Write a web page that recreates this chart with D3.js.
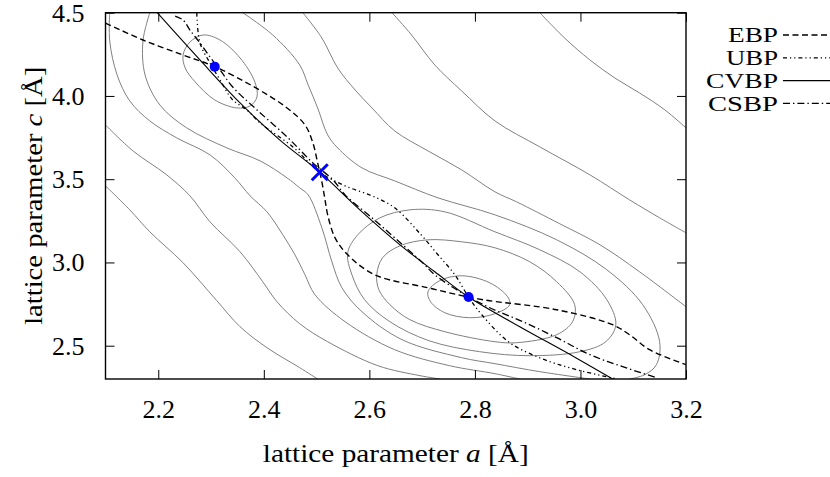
<!DOCTYPE html>
<html>
<head>
<meta charset="utf-8">
<script src="https://cdn.jsdelivr.net/npm/d3@7"></script>
<style>
  html, body { margin: 0; padding: 0; background: #fff; }
  svg { display: block; }
  text { font-family: "Liberation Serif", "Times New Roman", serif; fill: #000; }
</style>
</head>
<body>
<svg id="chart" width="830" height="477"></svg>
<script>
// ---- tick values ----
const xTicks = [2.2, 2.4, 2.6, 2.8, 3.0, 3.2];
const yTicks = [2.5, 3.0, 3.5, 4.0, 4.5];

// ---- stationary points (a, c) in Å ----
const minima = [[2.307, 4.176], [2.788, 2.792]];
const saddle = [2.506, 3.542];

// ---- open energy contours (a, c) ----
const contourP = [[2.10,3.460],[2.146,3.316],[2.184,3.184],[2.247,2.998],[2.311,2.770],[2.355,2.614],[2.406,2.488],[2.468,2.368],[2.502,2.30]];
const contourQ = [[2.10,3.826],[2.152,3.670],[2.216,3.526],[2.260,3.400],[2.298,3.244],[2.355,3.064],[2.398,2.884],[2.425,2.764],[2.468,2.632],[2.521,2.524],[2.616,2.380],[2.696,2.320],[2.734,2.30]];
const contourR = [[2.108,4.50],[2.108,4.330],[2.122,4.126],[2.146,3.970],[2.184,3.850],[2.235,3.748],[2.298,3.646],[2.345,3.508],[2.374,3.400],[2.406,3.304],[2.436,3.166],[2.459,3.046],[2.478,2.926],[2.497,2.806],[2.554,2.644],[2.648,2.476],[2.752,2.380],[2.838,2.332],[2.885,2.30]];
const contourD = [[2.184,4.50],[2.171,4.330],[2.175,4.126],[2.203,3.946],[2.254,3.808],[2.330,3.688],[2.393,3.610],[2.444,3.508],[2.468,3.448],[2.484,3.406],[2.510,3.208],[2.529,3.004],[2.548,2.848],[2.586,2.704],[2.662,2.536],[2.775,2.428],[2.838,2.392],[2.923,2.344],[3.018,2.30]];
const contourM0 = [[2.360,4.50],[2.417,4.366],[2.468,4.186],[2.484,4.066],[2.502,3.928],[2.521,3.766],[2.540,3.688],[2.586,3.568],[2.648,3.490],[2.730,3.388],[2.838,3.286],[2.955,3.136],[3.050,2.956],[3.118,2.746],[3.150,2.524],[3.144,2.386],[3.122,2.326],[3.093,2.30]];
const contourM1 = [[2.474,4.50],[2.510,4.348],[2.540,4.168],[2.573,4.036],[2.605,3.928],[2.648,3.790],[2.711,3.670],[2.775,3.556],[2.838,3.424],[2.879,3.364],[2.961,3.232],[3.037,3.106],[3.112,2.944],[3.20,2.734]];
const contourM2 = [[2.643,4.50],[2.680,4.366],[2.724,4.186],[2.775,4.030],[2.838,3.850],[2.923,3.694],[3.018,3.526],[3.093,3.376],[3.150,3.268],[3.20,3.178]];
const contourM3 = [[2.923,4.50],[2.970,4.348],[3.018,4.216],[3.065,4.108],[3.112,4.018],[3.160,3.916],[3.20,3.808]];

// ---- closed energy contours around the two minima ----
const ringA = [[2.247,4.246],[2.260,4.324],[2.285,4.366],[2.317,4.336],[2.355,4.228],[2.383,4.084],[2.387,3.994],[2.374,3.940],[2.349,3.928],[2.307,3.976],[2.270,4.084],[2.251,4.168]];
const ringB = [[2.711,2.824],[2.733,2.890],[2.775,2.920],[2.828,2.878],[2.862,2.794],[2.866,2.746],[2.838,2.692],[2.790,2.668],[2.743,2.698],[2.716,2.764]];
const ringC = [[2.614,2.926],[2.625,3.028],[2.658,3.100],[2.711,3.136],[2.775,3.124],[2.838,3.088],[2.904,3.004],[2.955,2.884],[2.989,2.746],[2.985,2.644],[2.955,2.566],[2.879,2.518],[2.838,2.524],[2.743,2.584],[2.677,2.656],[2.639,2.746],[2.618,2.836]];
const ringD = [[2.559,3.058],[2.578,3.166],[2.620,3.268],[2.677,3.316],[2.743,3.304],[2.838,3.184],[2.923,3.076],[2.999,2.944],[3.050,2.776],[3.067,2.626],[3.048,2.524],[2.999,2.464],[2.904,2.440],[2.809,2.464],[2.713,2.530],[2.639,2.644],[2.591,2.776],[2.567,2.926]];

const openContours = [contourP, contourQ, contourR, contourD, contourM0, contourM1, contourM2, contourM3];
const closedContours = [ringA, ringB, ringC, ringD];

// ---- transition paths (a, c) ----
const pathNames = ["EBP", "UBP", "CVBP", "CSBP"];
const ebp = [[2.10,4.438],[2.171,4.336],[2.247,4.246],[2.307,4.176],[2.385,4.048],[2.444,3.928],[2.478,3.826],[2.493,3.718],[2.502,3.598],[2.510,3.484],[2.516,3.376],[2.521,3.286],[2.535,3.148],[2.559,3.046],[2.610,2.926],[2.711,2.848],[2.788,2.792],[2.828,2.770],[2.955,2.716],[3.061,2.626],[3.093,2.566],[3.131,2.476],[3.20,2.386]];
const ubp = [[2.273,4.50],[2.279,4.318],[2.298,4.198],[2.317,4.096],[2.341,3.976],[2.368,3.916],[2.393,3.838],[2.455,3.694],[2.506,3.542],[2.554,3.460],[2.605,3.400],[2.648,3.328],[2.698,3.166],[2.730,3.046],[2.762,2.926],[2.788,2.792],[2.813,2.686],[2.866,2.518],[2.932,2.416],[2.993,2.356],[3.069,2.30]];
const cvbp = [[2.198,4.50],[2.279,4.216],[2.355,3.958],[2.430,3.736],[2.506,3.542],[2.582,3.316],[2.658,3.106],[2.724,2.944],[2.788,2.792],[2.885,2.614],[2.991,2.428],[3.061,2.30]];
const csbp = [[2.232,4.480],[2.247,4.456],[2.260,4.396],[2.279,4.318],[2.298,4.234],[2.317,4.156],[2.341,4.054],[2.387,3.916],[2.444,3.754],[2.493,3.598],[2.531,3.496],[2.554,3.406],[2.605,3.268],[2.648,3.148],[2.699,3.004],[2.724,2.926],[2.775,2.818],[2.828,2.728],[2.891,2.644],[2.955,2.548],[3.018,2.446],[3.080,2.374],[3.144,2.308]];
const pathSeries = [ebp, ubp, cvbp, csbp];
const pathDash = ["6,3.5", "4,3,1.2,3,1.2,3", null, "7,3,1.4,3"];
const pathWidth = [1.4, 1.3, 1.1, 1.3];

// ---- layout ----
const plotLeft = 105.5, plotRight = 686, plotTop = 12.7, plotBottom = 379;
const FONT = "'Liberation Serif', 'Times New Roman', serif";
const svg = d3.select("#chart");

const x = d3.scaleLinear().domain([2.1, 3.2]).range([plotLeft, plotRight]);
const y = d3.scaleLinear().domain([2.3, 4.5]).range([plotBottom, plotTop]);

svg.append("defs").append("clipPath").attr("id", "plotClip")
  .append("rect").attr("x", plotLeft).attr("y", plotTop)
  .attr("width", plotRight - plotLeft).attr("height", plotBottom - plotTop);

const plot = svg.append("g").attr("clip-path", "url(#plotClip)");

const openLine = d3.line().x(d => x(d[0])).y(d => y(d[1])).curve(d3.curveCatmullRom.alpha(0.5));
const closedLine = d3.line().x(d => x(d[0])).y(d => y(d[1])).curve(d3.curveCatmullRomClosed.alpha(0.5));

// contours
plot.selectAll("path.contour-open").data(openContours).join("path")
  .attr("class", "contour-open")
  .attr("d", openLine)
  .attr("fill", "none").attr("stroke", "#808080").attr("stroke-width", 1);
plot.selectAll("path.contour-closed").data(closedContours).join("path")
  .attr("class", "contour-closed")
  .attr("d", closedLine)
  .attr("fill", "none").attr("stroke", "#808080").attr("stroke-width", 1);

// transition paths
plot.selectAll("path.mep").data(pathSeries).join("path")
  .attr("class", "mep")
  .attr("d", openLine)
  .attr("fill", "none").attr("stroke", "#000")
  .attr("stroke-width", (d, i) => pathWidth[i])
  .attr("stroke-dasharray", (d, i) => pathDash[i]);

// minima and saddle
plot.selectAll("circle.minimum").data(minima).join("circle")
  .attr("class", "minimum")
  .attr("cx", d => x(d[0])).attr("cy", d => y(d[1])).attr("r", 5)
  .attr("fill", "#0000ff");
const s = 8;
const sx = x(saddle[0]), sy = y(saddle[1]);
plot.append("path")
  .attr("d", `M${sx - s},${sy - s}L${sx + s},${sy + s}M${sx - s},${sy + s}L${sx + s},${sy - s}`)
  .attr("stroke", "#0000ff").attr("stroke-width", 3).attr("fill", "none");

// axes (ticks pointing inward on all four sides)
const fmt = d3.format(".1f");
const gx = svg.append("g").attr("transform", `translate(0,${plotBottom})`)
  .call(d3.axisBottom(x).tickValues(xTicks).tickSizeInner(-9).tickSizeOuter(0).tickPadding(21).tickFormat(fmt));
const gy = svg.append("g").attr("transform", `translate(${plotLeft},0)`)
  .call(d3.axisLeft(y).tickValues(yTicks).tickSizeInner(-9).tickSizeOuter(0).tickPadding(21).tickFormat(fmt));
const gxt = svg.append("g").attr("transform", `translate(0,${plotTop})`)
  .call(d3.axisTop(x).tickValues(xTicks).tickSizeInner(-9).tickSizeOuter(0).tickFormat(""));
const gyr = svg.append("g").attr("transform", `translate(${plotRight},0)`)
  .call(d3.axisRight(y).tickValues(yTicks).tickSizeInner(-9).tickSizeOuter(0).tickFormat(""));
[gx, gy, gxt, gyr].forEach(g => {
  g.select(".domain").remove();
  g.selectAll(".tick line").attr("stroke", "#000").attr("stroke-width", 1);
  g.selectAll(".tick text").attr("font-size", 26)
    .attr("font-family", FONT).attr("fill", "#000");
});

// frame
svg.append("rect").attr("x", plotLeft).attr("y", plotTop)
  .attr("width", plotRight - plotLeft).attr("height", plotBottom - plotTop)
  .attr("fill", "none").attr("stroke", "#000").attr("stroke-width", 1.4);

// axis titles
const xt = svg.append("text").attr("x", (plotLeft + plotRight) / 2).attr("y", 462)
  .attr("text-anchor", "middle").attr("font-size", 26)
  .attr("textLength", 266).attr("lengthAdjust", "spacingAndGlyphs");
xt.append("tspan").text("lattice parameter ");
xt.append("tspan").attr("font-style", "italic").text("a");
xt.append("tspan").text(" [Å]");

const yt = svg.append("text")
  .attr("transform", `translate(42,${(plotTop + plotBottom) / 2}) rotate(-90)`)
  .attr("text-anchor", "middle").attr("font-size", 26)
  .attr("textLength", 258).attr("lengthAdjust", "spacingAndGlyphs");
yt.append("tspan").text("lattice parameter ");
yt.append("tspan").attr("font-style", "italic").text("c");
yt.append("tspan").text(" [Å]");

// legend
const legendWidths = [50, 52, 72, 70];
const leg = svg.append("g");
pathNames.forEach((name, i) => {
  const ly = 35 + 22.8 * i;
  leg.append("text").attr("x", 778).attr("y", ly).attr("dy", "0.35em")
    .attr("text-anchor", "end").attr("font-size", 20.4)
    .attr("textLength", legendWidths[i]).attr("lengthAdjust", "spacingAndGlyphs")
    .text(name);
  leg.append("line").attr("x1", 783).attr("x2", 830).attr("y1", ly).attr("y2", ly)
    .attr("stroke", "#000").attr("stroke-width", pathWidth[i])
    .attr("stroke-dasharray", pathDash[i]);
});
</script>
</body>
</html>
